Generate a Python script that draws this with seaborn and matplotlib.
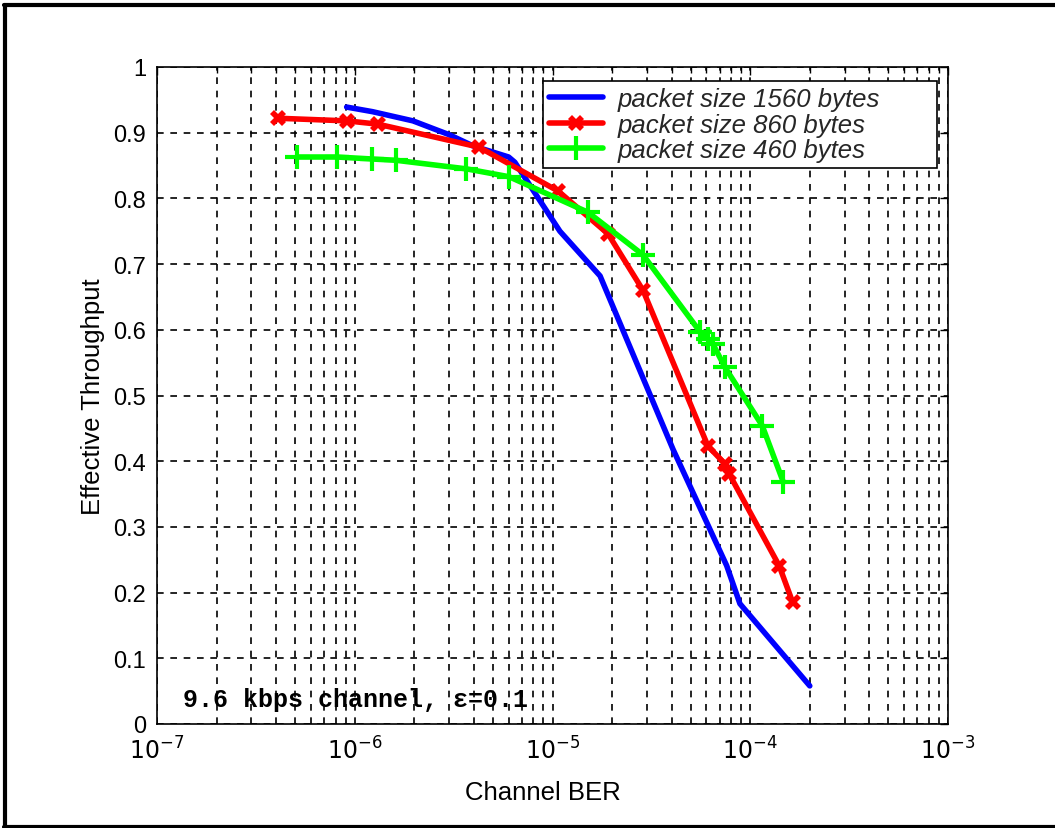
import numpy as np
import pandas as pd
import matplotlib
matplotlib.use("Agg")
import matplotlib.pyplot as plt
import seaborn as sns
from matplotlib.ticker import LogLocator, FixedLocator

sns.set_theme(style="white")
plt.rcParams['font.family'] = ['Liberation Sans', 'DejaVu Sans']

# Data
ber_1560 = [9.1e-7, 1.23e-6, 1.97e-6, 3.0e-6, 3.96e-6, 6.0e-6, 6.45e-6, 1.09e-5, 1.74e-5, 4.07e-5, 7.6e-5, 8.87e-5, 2.0e-4]
thr_1560 = [0.939, 0.932, 0.918, 0.897, 0.880, 0.863, 0.855, 0.750, 0.682, 0.418, 0.241, 0.183, 0.058]

ber_860 = [4.09e-7, 9.14e-7, 1.31e-6, 4.25e-6, 1.07e-5, 1.91e-5, 2.87e-5, 6.11e-5, 7.45e-5, 7.81e-5, 1.40e-4, 1.64e-4]
thr_860 = [0.922, 0.918, 0.913, 0.878, 0.811, 0.746, 0.660, 0.423, 0.396, 0.381, 0.241, 0.185]

ber_460 = [5.1e-7, 8.13e-7, 1.22e-6, 1.62e-6, 3.66e-6, 6.03e-6, 1.51e-5, 2.87e-5, 5.57e-5, 6.11e-5, 6.48e-5, 7.45e-5, 1.15e-4, 1.47e-4]
thr_460 = [0.863, 0.863, 0.860, 0.858, 0.845, 0.833, 0.779, 0.714, 0.597, 0.586, 0.578, 0.543, 0.454, 0.368]

labels = ["packet size 1560 bytes", "packet size 860 bytes", "packet size 460 bytes"]
x_ticks = [1e-7, 1e-6, 1e-5, 1e-4, 1e-3]
x_tick_labels = ["$10^{-7}$", "$10^{-6}$", "$10^{-5}$", "$10^{-4}$", "$10^{-3}$"]
y_ticks = [0, 0.1, 0.2, 0.3, 0.4, 0.5, 0.6, 0.7, 0.8, 0.9, 1]
y_tick_labels = ["0", "0.1", "0.2", "0.3", "0.4", "0.5", "0.6", "0.7", "0.8", "0.9", "1"]

df = pd.concat([
    pd.DataFrame({"ber": ber_1560, "thr": thr_1560, "series": labels[0]}),
    pd.DataFrame({"ber": ber_860, "thr": thr_860, "series": labels[1]}),
    pd.DataFrame({"ber": ber_460, "thr": thr_460, "series": labels[2]}),
])

fig = plt.figure(figsize=(10.55, 8.29), dpi=100)
ax = fig.add_axes([157/1055, 1-725/829, (948-157)/1055, (725-68)/829])

palette = {labels[0]: "#0000ff", labels[1]: "#ff0000", labels[2]: "#00ff00"}
markers = {labels[0]: "", labels[1]: "X", labels[2]: "+"}
sizes = {labels[0]: 0, labels[1]: 12, labels[2]: 17}

for lab in labels:
    sub = df[df.series == lab]
    sns.lineplot(data=sub, x="ber", y="thr", ax=ax, color=palette[lab], lw=4,
                 marker=markers[lab] if markers[lab] else None,
                 markersize=sizes[lab], markeredgewidth=3 if lab == labels[2] else 0,
                 markeredgecolor=palette[lab], markerfacecolor=palette[lab],
                 label=lab, sort=False, estimator=None, zorder=3)

ax.set_xscale("log")
ax.set_xlim(1e-7, 1e-3)
ax.set_ylim(0, 1)
ax.xaxis.set_major_locator(FixedLocator(x_ticks))
ax.set_xticklabels(x_tick_labels)
ax.xaxis.set_minor_locator(LogLocator(base=10, subs=np.arange(2, 10), numticks=20))
ax.set_yticks(y_ticks)
ax.set_yticklabels(y_tick_labels)

ax.grid(True, which="major", axis="both", color="black", linestyle=(0, (4, 4)), linewidth=1.2)
ax.grid(True, which="minor", axis="x", color="black", linestyle=(0, (4, 4)), linewidth=1.2)
ax.tick_params(axis="both", which="both", direction="in", top=True, right=True,
               labelsize=17, colors="black", length=6, width=1)
ax.tick_params(axis="both", which="minor", length=4)
ax.tick_params(axis="x", which="major", pad=9)
ax.tick_params(axis="y", which="major", pad=8)
for s in ax.spines.values():
    s.set_color("black")
    s.set_linewidth(1.2)

ax.set_xlabel("Channel BER", fontsize=18.5, color="black", labelpad=8)
ax.set_ylabel("Effective Throughput", fontsize=18.5, color="black", labelpad=6)
ax.xaxis.set_label_coords((543 - 157) / 791, -0.085)

x0 = (543 - 157) / 791
w = (937 - 543) / 791
ytop = (725 - 82) / 657
h = 0.13
leg = ax.legend(loc="upper left", bbox_to_anchor=(x0, ytop - h, w, h), mode="expand",
                bbox_transform=ax.transAxes,
                frameon=True, fancybox=False, edgecolor="black", framealpha=1,
                prop={"style": "italic", "size": 18.5}, handlelength=2.1, borderpad=0.25,
                labelspacing=0.05, handletextpad=0.55, borderaxespad=0)
leg.get_frame().set_linewidth(1.2)

ax.text(0.033, 0.027, "9.6 kbps channel, \u03b5=0.1", transform=ax.transAxes,
        family=["Liberation Mono", "DejaVu Sans Mono"], fontweight="bold", fontsize=18, color="black")

# figure frame (top, left, bottom)
fig.add_artist(plt.Line2D([4/1055, 1.01], [1-6/829, 1-6/829], transform=fig.transFigure, color="black", lw=3))
fig.add_artist(plt.Line2D([4.5/1055, 4.5/1055], [1-6/829, 1.5/829], transform=fig.transFigure, color="black", lw=3))
fig.add_artist(plt.Line2D([4/1055, 1.01], [1.5/829, 1.5/829], transform=fig.transFigure, color="black", lw=3))

fig.savefig("out.png", dpi=100, facecolor="white")
